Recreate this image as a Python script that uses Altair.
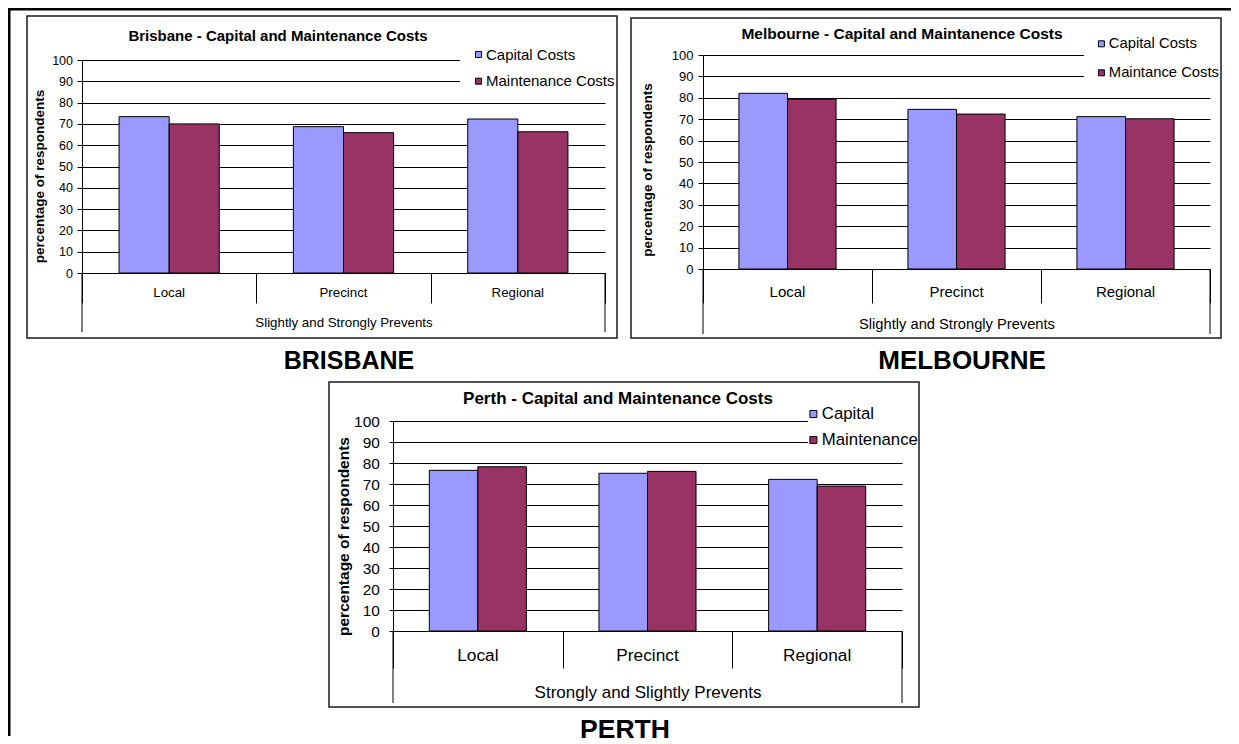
import altair as alt
import pandas as pd

FONT = "Liberation Sans"

categories = ["Local", "Precinct", "Regional"]

brisbane_series = ["Capital Costs", "Maintenance Costs"]
brisbane_capital = [73.4, 68.7, 72.3]
brisbane_maint = [70.0, 65.9, 66.3]

melbourne_series = ["Capital Costs", "Maintance Costs"]
melbourne_capital = [82.1, 74.6, 71.2]
melbourne_maint = [79.4, 72.4, 70.2]

perth_series = ["Capital", "Maintenance"]
perth_capital = [76.5, 75.1, 72.2]
perth_maint = [78.2, 76.0, 69.0]

titles = ["Brisbane - Capital and Maintenance Costs",
          "Melbourne - Capital and Maintanence Costs",
          "Perth - Capital and Maintenance Costs"]
group_labels = ["Slightly and Strongly Prevents",
                "Slightly and Strongly Prevents",
                "Strongly and Slightly Prevents"]
city_labels = ["BRISBANE", "MELBOURNE", "PERTH"]
y_title = "percentage of respondents"
y_ticks = list(range(0, 101, 10))
colors = ["#9999FF", "#993366"]

VIEW_W, VIEW_H = 523, 218


def one(text=""):
    return alt.Chart(pd.DataFrame({"t": [text]}))


def panel(title, series, cap, mnt, group, city, L, borders=False):
    df = pd.DataFrame({
        "category": categories * 2,
        "series": [series[0]] * 3 + [series[1]] * 3,
        "value": cap + mnt,
    })
    ox, oy = L["o"]
    W, y0, y100 = L["W"], oy + L["y0"], oy + L["y100"]
    xs = alt.Scale(domain=categories, range=[ox, ox + W], paddingInner=0, paddingOuter=0)
    x_axis = alt.Axis(
        orient="bottom", offset=y0 - VIEW_H,
        labels=False, title=group, tickBand="extent", tickSize=L["sep"],
        tickColor="black", tickWidth=1, domainColor="black", domainWidth=1,
        titleY=L["gy"], titleBaseline="middle", titleFont=FONT,
        titleFontSize=L["gfs"], titleFontWeight="normal", titleColor="black",
    )
    xenc = alt.X("category:N", scale=xs, sort=categories, axis=x_axis)
    ys = alt.Scale(domain=[0, 100], range=[y0, y100], nice=False, zero=True)
    y_axis = alt.Axis(
        orient="left", offset=-ox,
        values=y_ticks, grid=True, gridColor="black", gridWidth=1,
        domainColor="black", tickColor="black", tickSize=L["tk"],
        labelFont=FONT, labelFontSize=L["tfs"], labelColor="black",
        labelPadding=L["lp"], title=y_title, titleFont=FONT,
        titleFontSize=L["yfs"], titleFontWeight="bold", titleColor="black",
        titleX=L["ytx"], titleY=oy + L["yty"], titleAngle=270,
        titleBaseline="middle", titleAlign="center",
    )
    bars = alt.Chart(df).mark_bar(stroke="black", strokeWidth=1).encode(
        x=xenc,
        xOffset=alt.XOffset("series:N", sort=series,
                            scale=alt.Scale(domain=series, paddingInner=0,
                                            paddingOuter=L["po"])),
        y=alt.Y("value:Q", scale=ys, axis=y_axis),
        color=alt.Color("series:N", sort=series,
                        scale=alt.Scale(domain=series, range=colors),
                        legend=alt.Legend(
                            orient="none", legendX=ox + L["lx"], legendY=oy + L["ly"], title=None,
                            direction="vertical", symbolType="square",
                            symbolSize=L["ss"], symbolStrokeColor="black",
                            symbolStrokeWidth=1, symbolOpacity=1,
                            labelFont=FONT, labelFontSize=L["lfs"], labelColor="black",
                            labelOffset=0, rowPadding=L["rp"], padding=0)),
    )
    mask = one().mark_rect(color="white").encode(
        x=alt.value(ox + L["mx"]), x2=alt.value(ox + W + 2),
        y=alt.value(y100 - 11), y2=alt.value(y100 + 31))
    frame = one().mark_rect(filled=False, stroke="#1a1a1a", strokeWidth=1.5).encode(
        x=alt.value(ox + L["fx"][0]), x2=alt.value(ox + L["fx"][1]),
        y=alt.value(oy + L["fy"][0]), y2=alt.value(oy + L["fy"][1]))
    brackets = alt.Chart(pd.DataFrame({"p": [ox, ox + W]})).mark_rule(
        color="black", strokeWidth=1).encode(
        x=alt.X("p:Q", scale=None), y=alt.value(y0), y2=alt.value(y0 + L["br"]))
    cat_text = alt.Chart(pd.DataFrame({"category": categories})).mark_text(
        font=FONT, fontSize=L["cfs"], color="black", baseline="middle").encode(
        x=xenc, y=alt.value(y0 + L["cy"]), text="category:N")
    title_text = one(title).mark_text(
        font=FONT, fontSize=L["hfs"], fontWeight="bold", color="black",
        baseline="middle", align="center").encode(
        x=alt.value(ox + L["hx"]), y=alt.value(oy + L["hy"]), text="t:N")
    city_text = one(city).mark_text(
        font=FONT, fontSize=L["bfs"], fontWeight="bold", color="black",
        baseline="middle", align="center").encode(
        x=alt.value(ox + L["bx"]), y=alt.value(oy + L["by"]), text="t:N")
    layers = [mask, bars, brackets, frame, cat_text, title_text, city_text]
    if borders:
        # page border: a thick line along the top and down the left side
        top_line = one().mark_rect(color="black").encode(
            x=alt.value(-74), x2=alt.value(1149), y=alt.value(-47), y2=alt.value(-44.5))
        left_line = one().mark_rect(color="black").encode(
            x=alt.value(-74), x2=alt.value(-71.5), y=alt.value(-47), y2=alt.value(681))
        layers += [top_line, left_line]
    return alt.layer(*layers)


LB = dict(o=(0, 0), W=523, y0=218, y100=5, po=0.74, sep=30, gy=49, gfs=13.3, tk=5,
          tfs=12.5, lp=4.5, yfs=13.5, ytx=-42.5, yty=121,
          lx=389, ly=-8, ss=36, lfs=15, rp=10.7,
          mx=378, fx=(-55, 535), fy=(-39, 283), br=59, cfs=13.3, cy=19.5,
          hfs=15, hx=196, hy=-19, bfs=25, bx=267, by=306)
LM = dict(o=(621, 0), W=507, y0=214, y100=0, po=0.74, sep=34, gy=55, gfs=14.7, tk=5,
          tfs=13, lp=5, yfs=13.5, ytx=-56, yty=114.5,
          lx=391, ly=-18.6, ss=36, lfs=14.8, rp=13,
          mx=381, fx=(-72, 518), fy=(-37, 283), br=65, cfs=15, cy=23,
          hfs=15.5, hx=199, hy=-21, bfs=26, bx=259, by=306)
LP = dict(o=(311, 366), W=509, y0=210, y100=0, po=0.748, sep=37, gy=61, gfs=17, tk=4,
          tfs=15.4, lp=9.7, yfs=15.5, ytx=-49.3, yty=115,
          lx=412, ly=-15.4, ss=49, lfs=16.8, rp=8,
          mx=415, fx=(-64, 526), fy=(-39, 286), br=72, cfs=17.3, cy=25,
          hfs=17, hx=225, hy=-22, bfs=26.5, bx=232, by=309)

B = panel(titles[0], brisbane_series, brisbane_capital, brisbane_maint,
          group_labels[0], city_labels[0], LB, borders=True)
M = panel(titles[1], melbourne_series, melbourne_capital, melbourne_maint,
          group_labels[1], city_labels[1], LM)
P = panel(titles[2], perth_series, perth_capital, perth_maint,
          group_labels[2], city_labels[2], LP)

chart = alt.layer(B, M, P).resolve_scale(
    x="independent", y="independent", color="independent", xOffset="independent"
).resolve_axis(
    x="independent", y="independent"
).resolve_legend(
    color="independent"
).properties(
    width=VIEW_W, height=VIEW_H, padding=0, background="white"
).configure_view(strokeWidth=0)

chart.save("out.html", embed_options={"renderer": "svg", "actions": False})
